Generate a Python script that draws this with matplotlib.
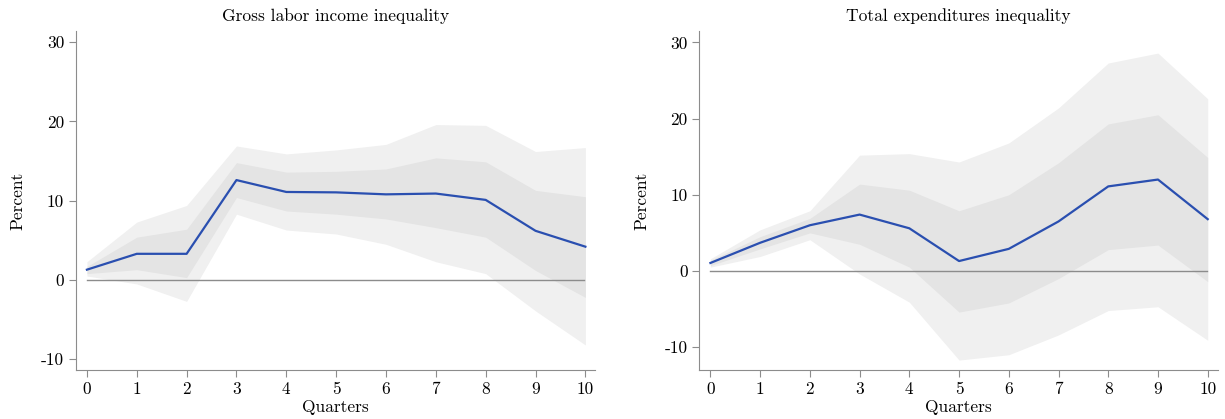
import numpy as np
import matplotlib
matplotlib.use("Agg")
import matplotlib.pyplot as plt

plt.rcParams['font.family'] = ['cmr10', 'DejaVu Serif']
plt.rcParams['axes.formatter.use_mathtext'] = True
plt.rcParams['axes.unicode_minus'] = False

quarters = np.arange(11)
yticks = [-10, 0, 10, 20, 30]
ytick_labels = ['-10', '0', '10', '20', '30']

# gross labor income inequality
inc_irf = [1.3, 3.3, 3.3, 12.6, 11.1, 11.05, 10.8, 10.9, 10.1, 6.2, 4.2]
inc_in_hi = [1.7, 5.4, 6.4, 14.8, 13.6, 13.7, 14.0, 15.4, 14.9, 11.3, 10.5]
inc_in_lo = [0.8, 1.3, 0.3, 10.4, 8.7, 8.3, 7.7, 6.6, 5.4, 1.2, -2.2]
inc_out_hi = [2.3, 7.3, 9.4, 16.9, 15.9, 16.4, 17.1, 19.6, 19.5, 16.2, 16.7]
inc_out_lo = [0.5, -0.5, -2.7, 8.3, 6.3, 5.8, 4.5, 2.3, 0.8, -3.9, -8.2]

# total expenditures inequality
exp_irf = [1.05, 3.7, 6.0, 7.4, 5.6, 1.3, 2.9, 6.5, 11.1, 12.0, 6.8]
exp_in_hi = [1.4, 4.5, 6.9, 11.4, 10.6, 7.9, 10.0, 14.2, 19.3, 20.5, 14.9]
exp_in_lo = [0.7, 2.9, 5.0, 3.5, 0.5, -5.4, -4.2, -1.0, 2.8, 3.4, -1.4]
exp_out_hi = [1.6, 5.4, 7.9, 15.2, 15.4, 14.3, 16.8, 21.4, 27.3, 28.6, 22.6]
exp_out_lo = [0.5, 1.9, 4.1, -0.4, -4.1, -11.7, -11.0, -8.4, -5.2, -4.7, -9.1]

fig = plt.figure(figsize=(12.25, 4.19), dpi=100)
ax1 = fig.add_axes([0.062, 0.117, 0.424, 0.809])
ax2 = fig.add_axes([0.571, 0.117, 0.423, 0.809])


def panel(ax, title, irf, in_lo, in_hi, out_lo, out_hi, ylim):
    ax.fill_between(quarters, out_lo, out_hi, color='#f0f0f0', lw=0)
    ax.fill_between(quarters, in_lo, in_hi, color='#e4e4e4', lw=0)
    ax.axhline(0, xmin=0.021, xmax=0.979, color='#8c8c8c', lw=1)
    ax.plot(quarters, irf, color='#2a4fb0', lw=1.6)
    ax.set_xlim(-0.22, 10.2)
    ax.set_ylim(*ylim)
    ax.set_xticks(quarters)
    ax.set_xticklabels([str(q) for q in quarters])
    ax.set_yticks(yticks)
    ax.set_yticklabels(ytick_labels)
    ax.set_title(title, fontsize=12.5, pad=7)
    ax.set_xlabel('Quarters', fontsize=12.5, labelpad=2)
    ax.set_ylabel('Percent', fontsize=12.5, labelpad=11)
    for s in ['top', 'right']:
        ax.spines[s].set_visible(False)
    for s in ['left', 'bottom']:
        ax.spines[s].set_color('#8c8c8c')
    ax.tick_params(colors='#8c8c8c', labelcolor='black', labelsize=12.5, length=5)


panel(ax1, 'Gross labor income inequality', inc_irf, inc_in_lo, inc_in_hi,
      inc_out_lo, inc_out_hi, (-11.35, 31.4))
panel(ax2, 'Total expenditures inequality', exp_irf, exp_in_lo, exp_in_hi,
      exp_out_lo, exp_out_hi, (-13.0, 31.5))

fig.savefig('out.png', dpi=100)
